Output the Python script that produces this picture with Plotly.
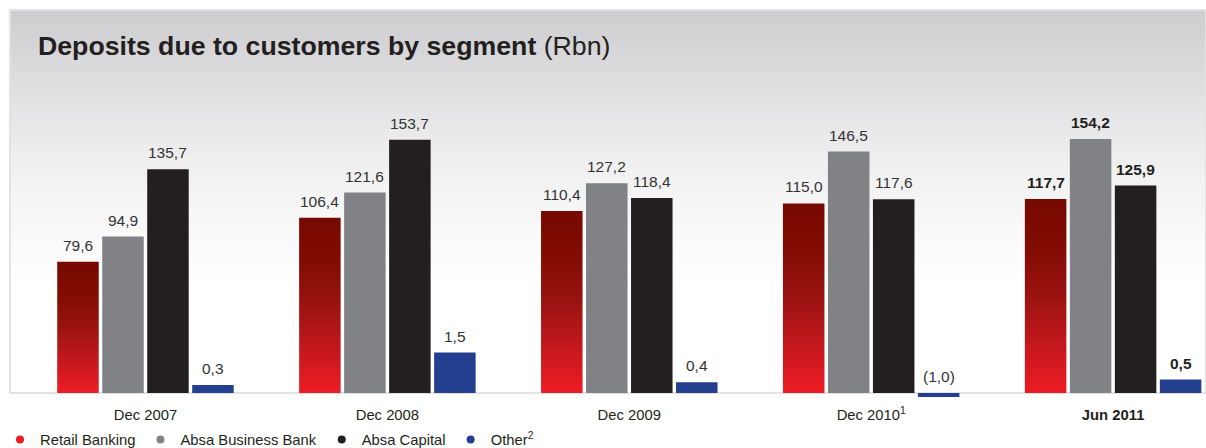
import base64
import struct
import zlib

import plotly.graph_objects as go

# ---- data -------------------------------------------------------------
periods = ["Dec 2007", "Dec 2008", "Dec 2009", "Dec 2010", "Jun 2011"]
period_labels = ["Dec 2007", "Dec 2008", "Dec 2009", "Dec 2010<sup>1</sup>", "<b>Jun 2011</b>"]

retail_banking = [79.6, 106.4, 110.4, 115.0, 117.7]
absa_business_bank = [94.9, 121.6, 127.2, 146.5, 154.2]
absa_capital = [135.7, 153.7, 118.4, 117.6, 125.9]
other = [0.3, 1.5, 0.4, -1.0, 0.5]

series_names = ["Retail Banking", "Absa Business Bank", "Absa Capital", "Other<sup>2</sup>"]

# ---- styling ----------------------------------------------------------
FONT = "Liberation Sans, Arial, Helvetica, sans-serif"
INK = "#231f20"
RED_TOP = "#760900"
RED_BOTTOM = "#ee1c25"
GREY = "#818285"
BLACK = "#231f20"
BLUE = "#243f8f"
legend_colors = ["#ec1c24", GREY, BLACK, BLUE]

SLOT = 0.186      # spacing between bars of one group (category units)
BAR_W = 0.1716    # bar width (category units)


def bar_offset(i):
    """Left edge of series i's bar relative to the category centre."""
    return (i - 1.5) * SLOT - BAR_W / 2


def fmt(v):
    s = f"{abs(v):.1f}".replace(".", ",")
    return f"({s})" if v < 0 else s


def gradient_png(stops, height):
    """Build a 1-px-wide vertical gradient PNG and return it as a data URI."""
    raw = bytearray()
    for r in range(height):
        t = r / (height - 1)
        for k in range(len(stops) - 1):
            t0, c0 = stops[k]
            t1, c1 = stops[k + 1]
            if t0 <= t <= t1:
                f = 0 if t1 == t0 else (t - t0) / (t1 - t0)
                rgb = [round(a + (b - a) * f) for a, b in zip(c0, c1)]
                break
        raw += b"\x00" + bytes(rgb)

    def chunk(tag, data):
        c = struct.pack(">I", len(data)) + tag + data
        return c + struct.pack(">I", zlib.crc32(tag + data) & 0xFFFFFFFF)

    png = b"\x89PNG\r\n\x1a\n"
    png += chunk(b"IHDR", struct.pack(">IIBBBBB", 1, height, 8, 2, 0, 0, 0))
    png += chunk(b"IDAT", zlib.compress(bytes(raw), 9))
    png += chunk(b"IEND", b"")
    return "data:image/png;base64," + base64.b64encode(png).decode()


bg_stops = [
    (0.00, (205, 205, 207)),
    (0.23, (226, 226, 228)),
    (0.36, (237, 237, 238)),
    (0.49, (245, 245, 246)),
    (0.62, (251, 251, 251)),
    (0.72, (255, 255, 255)),
    (1.00, (255, 255, 255)),
]

x_idx = list(range(len(periods)))
fig = go.Figure()

# Retail Banking: filled rectangles with a vertical red gradient
for j, v in zip(x_idx, retail_banking):
    x0 = j + bar_offset(0)
    x1 = x0 + BAR_W
    fig.add_trace(go.Scatter(
        x=[x0, x1, x1, x0], y=[0, 0, v, v],
        mode="lines", line=dict(width=0), fill="toself",
        fillgradient=dict(type="vertical",
                          colorscale=[[0, RED_BOTTOM], [0.25, "#c4181d"],
                                      [0.5, "#9a1310"], [0.75, "#820c04"],
                                      [1, RED_TOP]]),
        showlegend=False, hoverinfo="skip",
    ))

# Absa Business Bank and Absa Capital
for i, (vals, col) in enumerate([(absa_business_bank, GREY), (absa_capital, BLACK)], start=1):
    fig.add_trace(go.Bar(
        x=x_idx, y=vals, width=BAR_W, offset=bar_offset(i),
        marker=dict(color=col, line=dict(width=0)), showlegend=False,
    ))

# Other, on its own (hidden) scale
fig.add_trace(go.Bar(
    x=x_idx, y=other, width=BAR_W, offset=bar_offset(3), yaxis="y2",
    marker=dict(color=BLUE, line=dict(width=0)), showlegend=False,
))

# legend entries as round markers
for name, col in zip(series_names, legend_colors):
    fig.add_trace(go.Scatter(
        x=[None], y=[None], mode="markers", name=name,
        marker=dict(color=col, size=8, symbol="circle"),
    ))

# value labels above each bar
annotations = []
for i, vals in enumerate([retail_banking, absa_business_bank, absa_capital, other]):
    for j, v in zip(x_idx, vals):
        last = j == len(periods) - 1
        annotations.append(dict(
            x=j + bar_offset(i) + BAR_W / 2, y=max(v, 0),
            xref="x", yref="y2" if i == 3 else "y",
            text=f"<b>{fmt(v)}</b>" if last else fmt(v),
            showarrow=False, yanchor="bottom", yshift=6,
            font=dict(family=FONT, size=15.5, color=INK if last else "#333333"),
        ))

PX_PER_UNIT = 1.648
PLOT_H = 387
BELOW = 4  # px of room under the baseline

fig.update_layout(
    width=1206, height=448,
    margin=dict(l=10, r=0, t=10, b=51),
    paper_bgcolor="white", plot_bgcolor="rgba(0,0,0,0)",
    barmode="overlay",
    font=dict(family=FONT, color=INK, size=14.8),
    title=dict(
        text="<b>Deposits due to customers by segment</b> (Rbn)",
        x=38 / 1206, xanchor="left", xref="container",
        y=1 - 46 / 448, yanchor="middle", yref="container",
        font=dict(family=FONT, size=26.7, color=INK),
    ),
    xaxis=dict(
        type="linear", range=[-0.560, 4.384],
        tickvals=x_idx, ticktext=period_labels,
        showgrid=False, zeroline=False, showline=False, ticks="",
        ticklabelstandoff=7,
        tickfont=dict(family=FONT, size=14.8, color=INK),
    ),
    yaxis=dict(
        range=[-BELOW / PX_PER_UNIT, (PLOT_H - BELOW) / PX_PER_UNIT],
        visible=False, showgrid=False, zeroline=False,
    ),
    yaxis2=dict(
        overlaying="y", range=[-BELOW / 27, (PLOT_H - BELOW) / 27],
        visible=False, showgrid=False, zeroline=False,
    ),
    legend=dict(
        orientation="h", xref="container", yref="container",
        x=-0.006, y=1 - 440 / 448, xanchor="left", yanchor="middle",
        font=dict(family=FONT, size=14.8, color=INK),
        itemwidth=30, bgcolor="rgba(0,0,0,0)",
    ),
    annotations=annotations,
    images=[dict(
        source=gradient_png(bg_stops, 387),
        xref="paper", yref="paper", x=0, y=1, sizex=1, sizey=1,
        xanchor="left", yanchor="top", sizing="stretch", layer="below",
    )],
    shapes=[dict(
        type="rect", xref="paper", yref="paper",
        x0=0, x1=1, y0=BELOW / PLOT_H, y1=1,
        line=dict(color="#e3e3e3", width=2), layer="below",
    )],
)

fig.write_html("out.html")
